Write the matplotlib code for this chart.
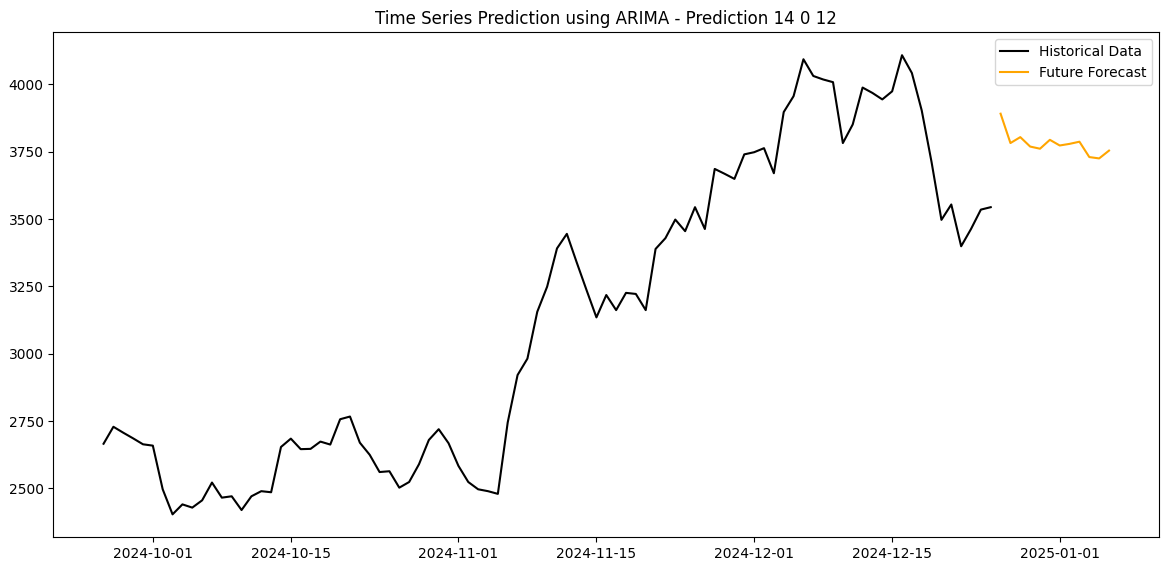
import pandas as pd
import matplotlib
matplotlib.use("Agg")
import matplotlib.pyplot as plt

# ------------------------------------------------------------
# Data
# ------------------------------------------------------------
hist_start = "2024-09-26"
hist_values = [
    2666, 2729, 2707, 2686, 2664,                          # 09-26 .. 09-30
    2659, 2497, 2404, 2441, 2429, 2456, 2522, 2466, 2471,  # 10-01 .. 10-09
    2420, 2471, 2490, 2486, 2654, 2685, 2646, 2647, 2674,  # 10-10 .. 10-18
    2663, 2757, 2767, 2670, 2625, 2561, 2564, 2503, 2524,  # 10-19 .. 10-27
    2590, 2680, 2720, 2668,                                # 10-28 .. 10-31
    2584, 2524, 2497, 2490, 2480, 2745, 2921, 2982, 3156,  # 11-01 .. 11-09
    3249, 3391, 3445, 3339, 3236, 3135, 3218, 3162, 3226,  # 11-10 .. 11-18
    3222, 3162, 3389, 3429, 3498, 3455, 3544, 3463, 3686,  # 11-19 .. 11-27
    3668, 3649, 3740,                                      # 11-28 .. 11-30
    3748, 3763, 3670, 3897, 3956, 4093, 4031, 4018, 4008,  # 12-01 .. 12-09
    3782, 3851, 3988, 3968, 3944, 3974, 4108, 4042, 3903,  # 12-10 .. 12-18
    3711, 3497, 3554, 3399, 3463, 3535, 3544,              # 12-19 .. 12-25
]

forecast_start = "2024-12-26"
forecast_values = [
    3891, 3782, 3804, 3769, 3761, 3794,
    3773, 3779, 3787, 3730, 3725, 3754,
]

hist_dates = pd.date_range(hist_start, periods=len(hist_values), freq="D")
forecast_dates = pd.date_range(forecast_start, periods=len(forecast_values), freq="D")

# ------------------------------------------------------------
# Plot
# ------------------------------------------------------------
fig = plt.figure(figsize=(11.71, 5.66), dpi=100)
ax = fig.add_axes([0.0455, 0.0507, 0.9445, 0.8923])

ax.plot(hist_dates, hist_values, color="black", label="Historical Data")
ax.plot(forecast_dates, forecast_values, color="orange", label="Future Forecast")

ax.set_title("Time Series Prediction using ARIMA - Prediction 14 0 12")
ax.legend(loc="upper right")

fig.savefig("out.png", dpi=100)
